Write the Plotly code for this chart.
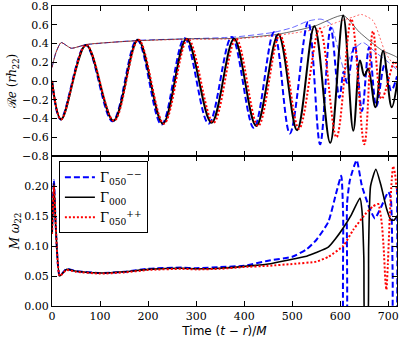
import plotly.graph_objects as go
from plotly.subplots import make_subplots

# ---- Re(r h22): extrema ----
t_re_m = [0, 18, 70, 126, 177, 228, 276, 326, 374, 420, 462, 495, 533, 558, 580,
          598, 607, 614, 630, 645, 660, 675, 692, 706, 718]
re_m = [0.0, -0.41, 0.385, -0.43, 0.44, -0.465, 0.455, -0.455, 0.47, -0.50, 0.52,
        -0.56, 0.63, -0.675, 0.57, -0.18, 0.10, -0.02, 0.38, -0.32, 0.36, -0.27,
        0.17, -0.10, 0.05]

t_re_0 = [0, 19, 71, 128, 179, 231, 280, 332, 379, 425, 471, 510, 546, 579, 606,
          627, 641, 650, 658, 673, 689, 707, 719]
re_0 = [0.0, -0.41, 0.385, -0.425, 0.44, -0.455, 0.45, -0.445, 0.45, -0.48, 0.50,
        -0.525, 0.585, -0.66, 0.70, -0.53, 0.22, 0.055, 0.13, -0.28, 0.32, -0.28, 0.0]

t_re_p = [0, 19, 71, 129, 180, 233, 283, 336, 383, 429, 474, 514, 557, 592, 623,
          650, 668, 686, 713, 719]
re_p = [0.0, -0.41, 0.385, -0.425, 0.44, -0.455, 0.45, -0.445, 0.45, -0.48, 0.49,
        -0.51, 0.56, -0.60, 0.66, -0.675, 0.53, -0.19, 0.21, 0.12]

# ---- amplitude envelopes (thin lines) ----
t_amp_m = [0, 8, 19, 40, 70, 180, 280, 380, 462, 500, 533, 560, 580, 595, 609,
           625, 647, 675, 700, 718]
amp_m = [0.145, 0.30, 0.41, 0.35, 0.385, 0.435, 0.45, 0.47, 0.52, 0.57, 0.64,
         0.66, 0.61, 0.35, 0.11, 0.32, 0.41, 0.30, 0.20, 0.12]

t_amp_0 = [0, 8, 19, 40, 71, 130, 180, 280, 380, 471, 546, 606, 640, 686, 712, 719]
amp_0 = [0.145, 0.30, 0.41, 0.35, 0.39, 0.415, 0.43, 0.45, 0.455, 0.50, 0.585,
         0.70, 0.52, 0.33, 0.27, 0.25]

t_amp_p = [0, 8, 19, 40, 71, 130, 180, 280, 380, 474, 557, 600, 625, 644, 668,
           686, 693, 714, 719]
amp_p = [0.145, 0.30, 0.41, 0.35, 0.39, 0.415, 0.43, 0.445, 0.45, 0.49, 0.56,
         0.64, 0.68, 0.71, 0.645, 0.41, 0.31, 0.15, 0.12]

# ---- M omega22 ----
t_w_m = [0, 4, 8, 16, 30, 50, 100, 150, 200, 270, 300, 350, 400, 450, 500, 530,
         550, 575, 592, 602, 606, 608, 612, 614, 620, 634, 645, 660, 672, 685,
         700, 705, 709, 711, 715, 718]
w_m = [0.12, 0.21, 0.13, 0.05, 0.062, 0.058, 0.055, 0.057, 0.062, 0.064, 0.063,
       0.065, 0.067, 0.0755, 0.082, 0.0945, 0.11, 0.14, 0.19, 0.217, 0.15, -0.05,
       -0.05, 0.17, 0.21, 0.243, 0.2, 0.165, 0.146, 0.165, 0.19, 0.18, 0.05,
       -0.05, -0.05, 0.2]

t_w_0 = [0, 4, 8, 16, 30, 50, 100, 150, 200, 270, 300, 350, 400, 450, 500, 530,
         550, 575, 590, 606, 623, 641, 645, 649, 652, 656, 659, 663, 674, 685,
         696, 705, 712, 718]
w_0 = [0.12, 0.205, 0.13, 0.05, 0.061, 0.058, 0.055, 0.057, 0.061, 0.063, 0.062,
       0.063, 0.066, 0.07, 0.078, 0.083, 0.089, 0.098, 0.112, 0.13, 0.152, 0.18,
       0.16, 0.08, -0.05, -0.05, 0.1, 0.2, 0.228, 0.2, 0.163, 0.144, 0.143, 0.15]

t_w_p = [0, 4, 8, 16, 30, 50, 100, 150, 200, 270, 300, 350, 400, 450, 500, 550,
         575, 606, 627, 654, 668, 679, 686, 690, 694, 696, 699, 703, 707, 710,
         714, 718]
w_p = [0.12, 0.20, 0.13, 0.05, 0.06, 0.057, 0.054, 0.056, 0.06, 0.062, 0.061,
       0.062, 0.065, 0.067, 0.07, 0.074, 0.082, 0.10, 0.127, 0.155, 0.166, 0.17,
       0.14, 0.10, 0.04, 0.027, 0.07, 0.15, 0.21, 0.233, 0.22, 0.19]

names = ["Γ<sub>050</sub><sup>−−</sup>", "Γ<sub>000</sub>", "Γ<sub>050</sub><sup>++</sup>"]
colors = ["#0000ff", "#000000", "#ff0000"]
dashes = ["6px,3px", "solid", "2px,2px"]

fig = make_subplots(rows=2, cols=1, shared_xaxes=True, vertical_spacing=0)

re_sets = [(t_re_m, re_m), (t_re_0, re_0), (t_re_p, re_p)]
amp_sets = [(t_amp_m, amp_m), (t_amp_0, amp_0), (t_amp_p, amp_p)]
w_sets = [(t_w_m, w_m), (t_w_0, w_0), (t_w_p, w_p)]

# thin envelopes first
for (tx, ty), c, d in zip(amp_sets, colors, dashes):
    fig.add_trace(go.Scatter(x=tx, y=ty, mode="lines", showlegend=False,
                             line=dict(color=c, width=0.6, dash=d, shape="spline", smoothing=0.6)),
                  row=1, col=1)

for (tx, ty), c, d, n in zip(re_sets, colors, dashes, names):
    fig.add_trace(go.Scatter(x=tx, y=ty, mode="lines", showlegend=False, name=n,
                             line=dict(color=c, width=2, dash=d, shape="spline", smoothing=1.0)),
                  row=1, col=1)

for (tx, ty), c, d, n in zip(w_sets, colors, dashes, names):
    fig.add_trace(go.Scatter(x=tx, y=ty, mode="lines", name=n,
                             line=dict(color=c, width=2 if c != "#000000" else 1.6, dash=d,
                                       shape="spline", smoothing=0.5)),
                  row=2, col=1)

axis_style = dict(showline=True, linecolor="black", linewidth=1.2, mirror="ticks",
                  ticks="inside", ticklen=5, tickcolor="black", showgrid=False,
                  zeroline=False, automargin=False, ticklabeloverflow="allow",
                  tickfont=dict(family="DejaVu Serif", size=11, color="black"))

fig.update_xaxes(range=[0, 718], tickvals=[0, 100, 200, 300, 400, 500, 600, 700], **axis_style)
fig.update_xaxes(showticklabels=False, row=1, col=1)
fig.update_xaxes(title=dict(text="Time (<i>t</i> − <i>r</i>)/<i>M</i>", standoff=4,
                            font=dict(family="DejaVu Sans", size=12, color="black")),
                 row=2, col=1)

fig.update_yaxes(**axis_style)
fig.update_yaxes(range=[-0.8005, 0.8005], tickvals=[-0.8, -0.6, -0.4, -0.2, 0, 0.2, 0.4, 0.6, 0.8],
                 tickformat=".1f",
                 title=dict(text="ℛ<i>e</i> (<i>rh</i><sub>22</sub>)", standoff=2,
                            font=dict(family="DejaVu Serif", size=12, color="black")),
                 row=1, col=1)
fig.update_yaxes(range=[0, 0.25], tickvals=[0, 0.05, 0.10, 0.15, 0.20], tickformat=".2f",
                 title=dict(text="<i>M ω</i><sub>22</sub>", standoff=2,
                            font=dict(family="DejaVu Serif", size=12, color="black")),
                 row=2, col=1)

fig.update_layout(
    width=399, height=341,
    margin=dict(l=52, r=2, t=6, b=35),
    plot_bgcolor="white", paper_bgcolor="white",
    legend=dict(x=0.02, y=0.482, xanchor="left", yanchor="top",
                bgcolor="white", bordercolor="black", borderwidth=1,
                font=dict(family="DejaVu Serif", size=13, color="black"),
                itemwidth=30, tracegroupgap=0),
)

# page body has a default 8px margin; drop it so the figure sits at (0, 0)
fig.write_html("out.html", config={"displayModeBar": False},
               post_script="document.body.style.margin='0';document.body.style.overflow='hidden';")
